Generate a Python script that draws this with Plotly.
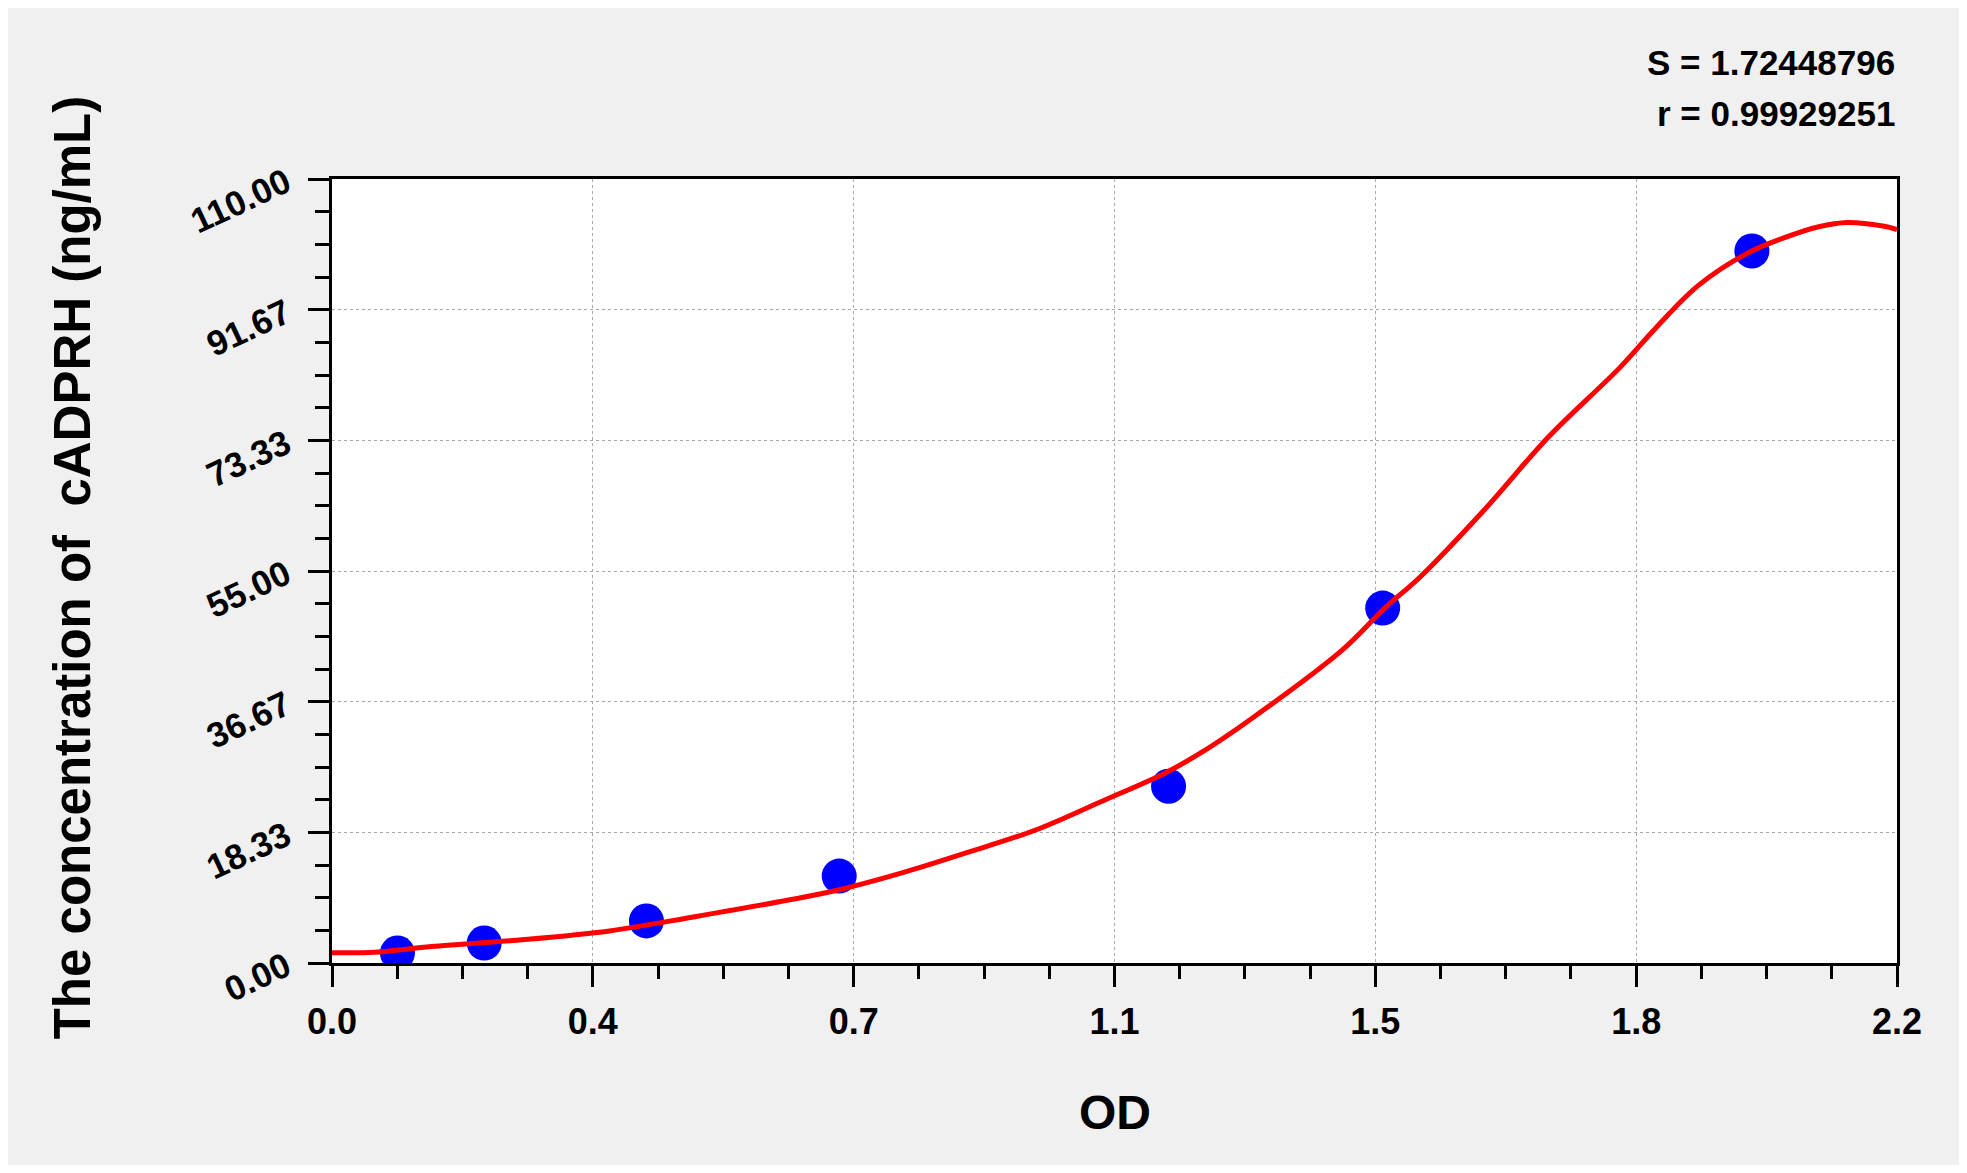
import plotly.graph_objects as go

# standards: OD readings and concentrations (ng/mL)
od_points = [0.092, 0.214, 0.442, 0.713, 1.176, 1.477, 1.996]
conc_points = [1.4, 2.8, 5.9, 12.2, 24.8, 49.8, 99.9]

# fitted curve
curve_od = [0.0, 0.06, 0.14, 0.26, 0.39, 0.51, 0.64, 0.71, 0.80, 0.89, 0.99, 1.08,
            1.17, 1.22, 1.29, 1.42, 1.48, 1.53, 1.62, 1.71, 1.81, 1.86, 1.92, 1.99,
            2.04, 2.09, 2.13, 2.18, 2.2]
curve_conc = [1.45, 1.5, 2.3, 3.2, 4.5, 6.5, 8.8, 10.2, 12.6, 15.4, 18.7, 22.6,
              26.6, 29.4, 34.1, 43.9, 49.8, 54.2, 63.6, 73.8, 83.5, 89.0, 95.0, 99.6,
              101.7, 103.3, 103.9, 103.4, 102.9]

x_tick_vals = [0.0, 2.2 / 6, 4.4 / 6, 1.1, 8.8 / 6, 11 / 6, 2.2]
x_tick_text = ["0.0", "0.4", "0.7", "1.1", "1.5", "1.8", "2.2"]
y_tick_vals = [0.0, 110 / 6, 220 / 6, 55.0, 440 / 6, 550 / 6, 110.0]
y_tick_text = ["0.00", "18.33", "36.67", "55.00", "73.33", "91.67", "110.00"]

stats_text = ["S = 1.72448796", "r = 0.99929251"]

FONT = "Liberation Sans, Arial, sans-serif"
AXIS_PARAMS = dict(
    showline=True, linecolor="black", linewidth=3, mirror=True,
    ticks="outside", ticklen=21, tickwidth=3, tickcolor="black",
    showgrid=True, gridcolor="#a8a8a8", gridwidth=1, griddash="3px,3px",
    zeroline=False, tickmode="array",
)


def main():
    fig = go.Figure()

    fig.add_trace(go.Scatter(
        x=od_points, y=conc_points, mode="markers",
        marker=dict(color="#0000ff", size=35), showlegend=False))

    fig.add_trace(go.Scatter(
        x=curve_od, y=curve_conc, mode="lines", line_shape="spline",
        line=dict(color="#ff0000", width=5), showlegend=False))

    fig.update_xaxes(
        range=[0, 2.2], tickvals=x_tick_vals, ticktext=x_tick_text,
        ticklabelstandoff=4,
        tickfont=dict(family=FONT, size=36, color="black", weight="bold"),
        minor=dict(dtick=2.2 / 24, tick0=0, ticks="outside", ticklen=13,
                   tickwidth=3, tickcolor="black", showgrid=False),
        **AXIS_PARAMS)
    fig.update_yaxes(
        range=[0, 110], tickvals=y_tick_vals, ticktext=y_tick_text, tickangle=-25,
        ticklabelstandoff=15,
        tickfont=dict(family=FONT, size=35, color="black", weight="bold"),
        minor=dict(dtick=110 / 24, tick0=0, ticks="outside", ticklen=14,
                   tickwidth=3, tickcolor="black", showgrid=False),
        **AXIS_PARAMS)

    fig.add_annotation(
        text="OD", x=0.5, y=-0.191, xref="paper", yref="paper", showarrow=False,
        xanchor="center", yanchor="middle",
        font=dict(family=FONT, size=48, color="black", weight="bold"))
    fig.add_annotation(
        text="The concentration of  cADPRH (ng/mL)", x=-0.166, y=0.505,
        xref="paper", yref="paper", showarrow=False, textangle=-90,
        xanchor="center", yanchor="middle",
        font=dict(family=FONT, size=51, color="black", weight="bold"))

    for text, y in zip(stats_text, [1.148, 1.084]):
        fig.add_annotation(
            text=text, x=1.0, y=y, xref="paper", yref="paper", showarrow=False,
            xanchor="right", yanchor="middle",
            font=dict(family=FONT, size=35, color="black", weight="bold"))

    # page body keeps an 8px margin, so the figure is a bit smaller than the window
    fig.update_layout(
        width=1951, height=1157,
        margin=dict(l=324, r=62, t=171, b=202),
        paper_bgcolor="#f0f0f0", plot_bgcolor="white",
        showlegend=False)

    fig.write_html("out.html")


if __name__ == "__main__":
    main()
